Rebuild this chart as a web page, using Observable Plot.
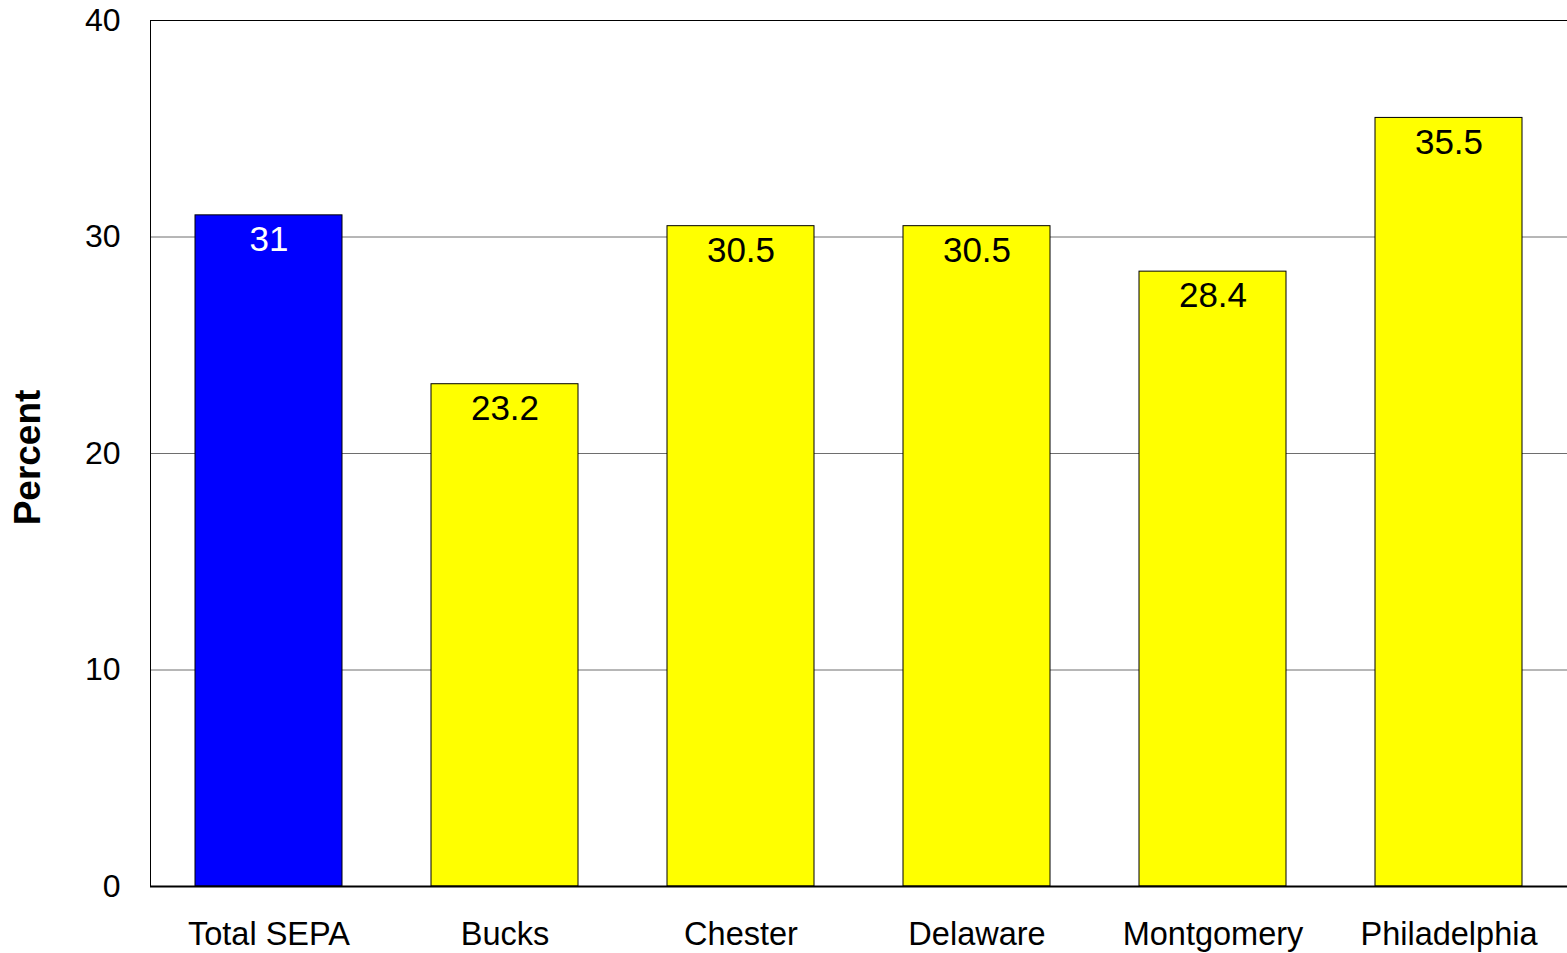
<!DOCTYPE html>
<html>
<head>
<meta charset="utf-8">
<script src="https://cdn.jsdelivr.net/npm/d3@7"></script>
<script src="https://cdn.jsdelivr.net/npm/@observablehq/plot@0.6"></script>
<style>
  html, body { margin: 0; padding: 0; background: #fff; }
  #chart svg { display: block; }
</style>
</head>
<body>
<div id="chart"></div>
<script>
const categories = ["Total SEPA", "Bucks", "Chester", "Delaware", "Montgomery", "Philadelphia"];
const values = [31, 23.2, 30.5, 30.5, 28.4, 35.5];
const barColors = ["#0000ff", "#ffff00", "#ffff00", "#ffff00", "#ffff00", "#ffff00"];
const labelColors = ["#ffffff", "#000000", "#000000", "#000000", "#000000", "#000000"];
const yTicks = [0, 10, 20, 30, 40];
const gridTicks = [10, 20, 30];
const yLabel = "Percent";

const data = categories.map((c, i) => ({cat: c, value: values[i], color: barColors[i], lc: labelColors[i]}));

const chart = Plot.plot({
  width: 1567,
  height: 953,
  marginLeft: 150,
  marginRight: 0,
  marginTop: 20,
  marginBottom: 67,
  style: {fontFamily: "Liberation Sans, Arial, sans-serif", background: "#fff"},
  x: {domain: categories, paddingInner: 0.377, paddingOuter: 0.1885, label: null},
  y: {domain: [0, 40], label: null},
  marks: [
    Plot.ruleY(gridTicks, {stroke: "#6e6e6e", strokeWidth: 1}),
    Plot.frame({anchor: "top", stroke: "#000"}),
    Plot.frame({anchor: "left", stroke: "#000"}),
    Plot.barY(data, {x: "cat", y: "value", fill: "color", stroke: "#000", strokeWidth: 1}),
    Plot.text(data, {x: "cat", y: "value", text: d => String(d.value), fill: "lc", lineAnchor: "top", dy: 11, fontSize: 35}),
    Plot.ruleY([0], {stroke: "#000", strokeWidth: 2}),
    Plot.axisY({ticks: yTicks, tickSize: 0, tickPadding: 30, fontSize: 32, label: null, fill: "#000"}),
    Plot.axisX({tickSize: 0, tickPadding: 35, fontSize: 32.5, label: null, fill: "#000"}),
    Plot.text([yLabel], {frameAnchor: "left", textAnchor: "middle", rotate: -90, dx: -122, dy: 4, fontWeight: "bold", fontSize: 37, fill: "#000"})
  ]
});
document.getElementById("chart").appendChild(chart);
</script>
</body>
</html>
